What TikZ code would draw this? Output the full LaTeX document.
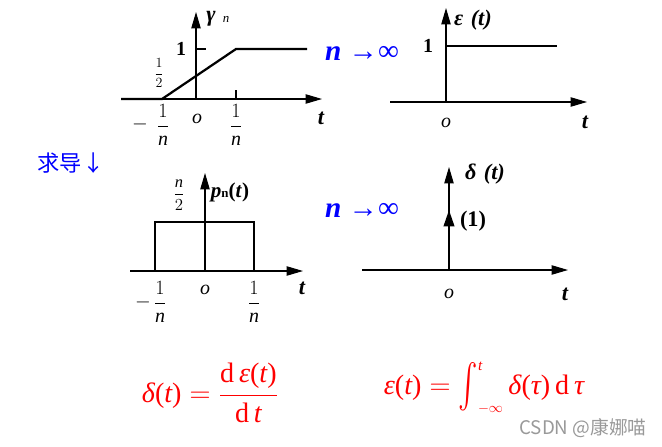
\documentclass[tikz,border=0pt]{standalone}
\usepackage{exscale}
\usepackage{graphicx}
\usepackage{fontspec}
\setmainfont{Liberation Serif}
\newfontfamily\cjk{Noto Sans CJK SC}
\usetikzlibrary{arrows.meta}
\tikzset{
	axis/.style={line width=0.9pt, -{Triangle[length=14pt,width=8pt]}},
	signal/.style={line width=1.9pt},
	lbl/.style={font=\fontsize{19}{21}\selectfont\bfseries\itshape, inner sep=0pt},
	one/.style={font=\fontsize{17}{19}\selectfont\bfseries, inner sep=0pt},
	orig/.style={font=\fontsize{17}{19}\selectfont\itshape, inner sep=0pt},
	frac/.style={font=\fontsize{17}{19}\selectfont, inner sep=0pt},
	smallfrac/.style={font=\fontsize{13}{15}\selectfont, inner sep=0pt},
	limit/.style={font=\fontsize{22}{26}\selectfont, text=blue, inner sep=0pt},
	formula/.style={font=\fontsize{24}{28}\selectfont, text=red, inner sep=0pt}
}
\newcommand{\fr}[2]{$\displaystyle\frac{#1}{#2}$}
\newcommand{\itx}[1]{\mbox{\itshape #1}}
\newcommand{\pr}[1]{\mbox{(}#1\mbox{)}}
\newcommand{\intlim}[1]{\mbox{\fontsize{13}{14}\selectfont #1}}
\begin{document}
\begin{tikzpicture}[x=0.03cm, y=-0.03cm]
	\useasboundingbox (0,0) rectangle (662,447);
	% ramp gamma_n
	\coordinate (ramp0) at (196,99);
	\draw[axis] (121,99) -- (322,99);
	\draw[axis] (ramp0) -- (196,12);
	\draw[signal] (121,99) -- (162,99) -- (236,49) -- (307,49);
	\draw[line width=0.9pt] (196,49) -- (206,49); \draw[line width=0.9pt] (236,99) -- (236,90);
	\node[lbl] (gam) at (211,19) {γ}; \node[orig, font=\fontsize{11}{12}\selectfont\itshape] (gamn) at (226,19) {n};
	\node[one] (ramp1) at (181,49) {1};
	\node[smallfrac] (half) at (159,73) {\fr{1}{2}};
	\node[frac] (rminus) at (140,124) {$-$}; \node[frac] (rl) at (163,125) {\fr{1}{\mathit{n}}};
	\node[orig] (ro) at (197,119) {o};
	\node[frac] (rr) at (236,125) {\fr{1}{\mathit{n}}};
	\node[lbl] (rt) at (321,118) {t};
	% step epsilon
	\coordinate (step0) at (446,102);
	\draw[axis] (390,102) -- (587,102);
	\draw[axis] (step0) -- (446,8);
	\draw[signal] (407,102) -- (446,102) -- (446,46) -- (557,46);
	\node[one] (step1) at (428,46) {1};
	\node[lbl] (eps) at (473,20) {ε\,\,(t)};
	\node[orig] (so) at (446,123) {o};
	\node[lbl] (st) at (585,122) {t};
	\node[limit] (lim1) at (362,53) {\fontsize{25}{27}\selectfont\textbf{\textit{n}} →∞};
	% derivative
	\node[font=\cjk\fontsize{19}{21}\selectfont, text=blue, inner sep=0pt] (deriv) at (71,163) {求导↓};
	% pulse p_n
	\coordinate (pulse0) at (205,271);
	\draw[axis] (130,271) -- (303,271);
	\draw[axis] (pulse0) -- (205,173);
	\draw[signal] (130,271) -- (155,271) -- (155,222) -- (254,222) -- (254,271) -- (277,271);
	\node[font=\fontsize{14}{16}\selectfont, inner sep=0pt] (nhalf) at (179,195) {\fr{\mathit{n}}{2}};
	\node[lbl, font=\fontsize{18}{20}\selectfont\bfseries\itshape] (pn) at (230,192) {p\textup{\fontsize{11}{12}\selectfont n}\textup{(}t\textup{)}};
	\node[frac] (pminus) at (143,302) {$-$}; \node[frac] (pl) at (160,302) {\fr{1}{\mathit{n}}};
	\node[orig] (po) at (205,290) {o};
	\node[frac] (pr) at (254,302) {\fr{1}{\mathit{n}}};
	\node[lbl] (pt) at (302,288) {t};
	% impulse delta
	\coordinate (imp0) at (449,270);
	\draw[axis] (362,270) -- (568,270);
	\draw[axis] (imp0) -- (449,167);
	\draw[signal, -{Triangle[length=14pt,width=9pt]}] (imp0) -- (449,210);
	\node[lbl] (del) at (485,174) {δ\,\,(t)};
	\node[lbl, font=\fontsize{19}{21}\selectfont\bfseries] (w1) at (473,221) {(1)};
	\node[orig] (io) at (449,294) {o};
	\node[lbl] (it) at (565,294) {t};
	\node[limit] (lim2) at (362,210) {\fontsize{25}{27}\selectfont\textbf{\textit{n}} →∞};
	% formulas
	\node[formula] (f1) at (210,393) {$\itx{δ}\pr{\itx{t}} = \displaystyle\frac{\mathrm{d}\,\itx{ε}\pr{\itx{t}}}{\mathrm{d}\,\itx{t}}$};
	\node[formula] (f2) at (484,388) {$\itx{ε}\pr{\itx{t}} = \mathop{\vcenter{\hbox{\scalebox{1}[1.5]{$\int$}}}}\nolimits_{\intlim{$-\infty$}}^{\intlim{\itshape t}}\itx{δ}\pr{\itx{τ}}\,\mathrm{d}\,\itx{τ}$};
	\node[font=\cjk\fontsize{16}{18}\selectfont, text=black!40, inner sep=0pt] (mark) at (583,428) {CSDN @康娜喵};
\end{tikzpicture}
\end{document}
